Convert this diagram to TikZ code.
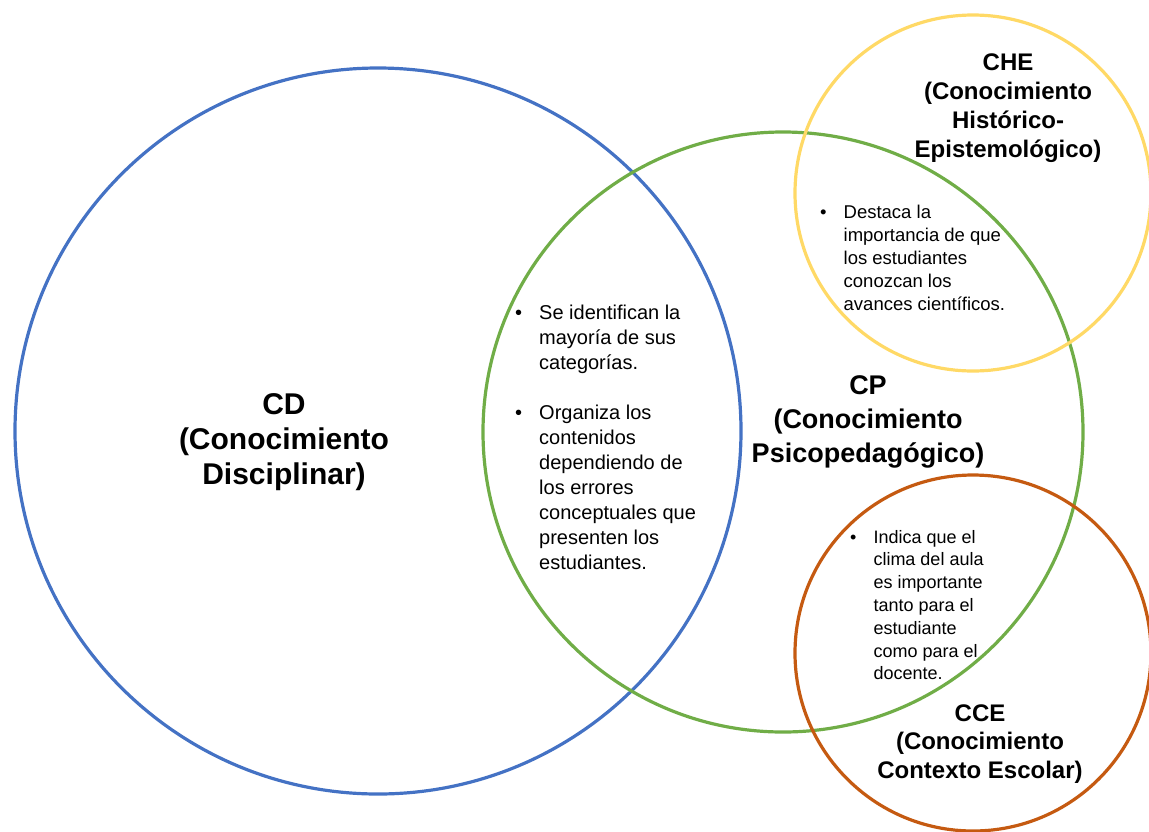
\documentclass[tikz,border=0pt]{standalone}
\usepackage{fontspec}
\setmainfont{Liberation Sans}
\usepackage{xcolor}
\usepackage{tikz}

\definecolor{cdblue}{HTML}{4472C4}
\definecolor{cpgreen}{HTML}{70AD47}
\definecolor{cheyellow}{HTML}{FFD966}
\definecolor{cceorange}{HTML}{C55A11}

\begin{document}
\begin{tikzpicture}[x=1pt, y=-1pt,
    circ/.style={line width=3.2pt},
    titulo/.style 2 args={align=center, font=\fontsize{#1}{#2}\selectfont\bfseries},
    lista/.style 2 args={anchor=base west, inner sep=0pt, font=\fontsize{#1}{#2}\selectfont}]
    \useasboundingbox (0,0) rectangle (1149,831);
    % los cuatro conocimientos
    \draw[circ, cdblue]    (378,431) circle[radius=363pt];
    \draw[circ, cpgreen]   (783,432) circle[radius=300pt];
    \draw[circ, cheyellow] (973,193) circle[radius=178pt];
    \draw[circ, cceorange] (973,653) circle[radius=178pt];
    % titulos
    \node[titulo={30}{35}] (cd) at (284,442) {CD\\(Conocimiento\\Disciplinar)};
    \node[titulo={27}{34}] (cp) at (868,422) {CP\\(Conocimiento\\Psicopedagógico)};
    \node[titulo={24}{29}] (che) at (1008,108) {CHE\\(Conocimiento\\Histórico-\\Epistemológico)};
    \node[titulo={24}{28.5}] (cce) at (980,744) {CCE\\(Conocimiento\\Contexto Escolar)};
    % listas de cada interseccion
    \node[lista={20}{25}] (cdcp) at (515,319) {\begin{tabular}[t]{@{}c@{\hspace{17pt}}l@{}}
      \textbullet & Se identifican la\\ & mayoría de sus\\ & categorías.\\ & \\
      \textbullet & Organiza los\\ & contenidos\\ & dependiendo de\\ & los errores\\
      & conceptuales que\\ & presenten los\\ & estudiantes.
    \end{tabular}};
    \node[lista={18.5}{23}] (cpche) at (820,218) {\begin{tabular}[t]{@{}c@{\hspace{17pt}}l@{}}
      \textbullet & Destaca la\\ & importancia de que\\ & los estudiantes\\
      & conozcan los\\ & avances científicos.
    \end{tabular}};
    \node[lista={18}{22.8}] (cpcce) at (850,543) {\begin{tabular}[t]{@{}c@{\hspace{17pt}}l@{}}
      \textbullet & Indica que el\\ & clima del aula\\ & es importante\\ & tanto para el\\
      & estudiante\\ & como para el\\ & docente.
    \end{tabular}};
\end{tikzpicture}
\end{document}
